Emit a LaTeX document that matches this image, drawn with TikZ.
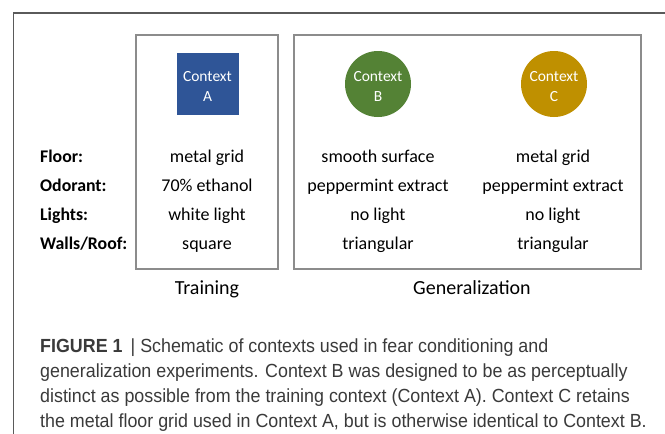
\documentclass[tikz,border=0pt]{standalone}
\usepackage{fontspec}
\setmainfont{Carlito}
\newfontfamily\capfont[FakeStretch=0.94]{Liberation Sans}
\definecolor{boxgray}{HTML}{8C8C8C}
\definecolor{framegray}{HTML}{5A5A5A}
\definecolor{ctxA}{HTML}{2F5597}
\definecolor{ctxB}{HTML}{548235}
\definecolor{ctxC}{HTML}{BF9000}
\definecolor{captext}{HTML}{3A3A3A}
\begin{document}
\begin{tikzpicture}[x=1pt,y=-1pt,
  groupbox/.style={draw=boxgray,line width=2pt,inner sep=0pt},
  ctxlabel/.style={text=white,font=\fontsize{15.5}{19.5}\selectfont,align=center,inner sep=0pt},
  cell/.style={font=\fontsize{18}{21}\selectfont,anchor=base,inner sep=0pt},
  rowlab/.style={font=\bfseries\fontsize{17.8}{21}\selectfont,anchor=base west,inner sep=0pt},
  grouptitle/.style={font=\fontsize{20}{23}\selectfont,anchor=base,inner sep=0pt},
  capline/.style={anchor=base west,inner sep=0pt,text=captext,font=\capfont\fontsize{19}{25}\selectfont}]
\useasboundingbox (0,0) rectangle (665,434);
\fill[white] (0,0) rectangle (665,434);
\coordinate (fbl) at (13.5,434);
\coordinate (ftl) at (13.5,13);
\coordinate (ftr) at (665,13);
\draw[framegray,line width=1.6pt] (fbl) -- (ftl) -- (ftr);
\node[groupbox,minimum width=142pt,minimum height=234pt] (train) at (207,152) {};
\node[groupbox,minimum width=346.5pt,minimum height=234pt] (gen) at (467.3,152) {};
\node[fill=ctxA,minimum width=62pt,minimum height=62pt,inner sep=0pt] (A) at (207.5,84) {};
\node[ctxlabel] at ([yshift=-2.5pt]A.center) {Context\\A};
\node[circle,fill=ctxB,minimum size=66pt,inner sep=0pt] (B) at (378,84) {};
\node[ctxlabel] at ([yshift=-2.5pt]B.center) {Context\\B};
\node[circle,fill=ctxC,minimum size=66pt,inner sep=0pt] (C) at (554,84) {};
\node[ctxlabel] at ([yshift=-2.5pt]C.center) {Context\\C};
\node[rowlab] (l1) at (40,162.5) {Floor:};
\node[rowlab] (l2) at (40,191.5) {Odorant:};
\node[rowlab] (l3) at (40,220.5) {Lights:};
\node[rowlab] (l4) at (40,249.5) {Walls/Roof:};
\node[cell] (a1) at (207,162.5) {metal grid};
\node[cell] (a2) at (207,191.5) {70\% ethanol};
\node[cell] (a3) at (207,220.5) {white light};
\node[cell] (a4) at (207,249.5) {square};
\node[cell] (b1) at (378,162.5) {smooth surface};
\node[cell] (b2) at (378,191.5) {peppermint extract};
\node[cell] (b3) at (378,220.5) {no light};
\node[cell] (b4) at (378,249.5) {triangular};
\node[cell] (c1) at (553,162.5) {metal grid};
\node[cell] (c2) at (553,191.5) {peppermint extract};
\node[cell] (c3) at (553,220.5) {no light};
\node[cell] (c4) at (553,249.5) {triangular};
\node[grouptitle] (tt) at (207,294) {Training};
\node[grouptitle] (gt) at (472,294) {Generalization};
\node[capline] (cap1) at (40,352) {\textbf{FIGURE 1}\ \,|\ Schematic of contexts used in fear conditioning and};
\node[capline] (cap2) at (40,377) {generalization experiments. Context B was designed to be as perceptually};
\node[capline] (cap3) at (40,402) {distinct as possible from the training context (Context A). Context C retains};
\node[capline] (cap4) at (40,427) {the metal floor grid used in Context A, but is otherwise identical to Context B.};
\end{tikzpicture}
\end{document}
